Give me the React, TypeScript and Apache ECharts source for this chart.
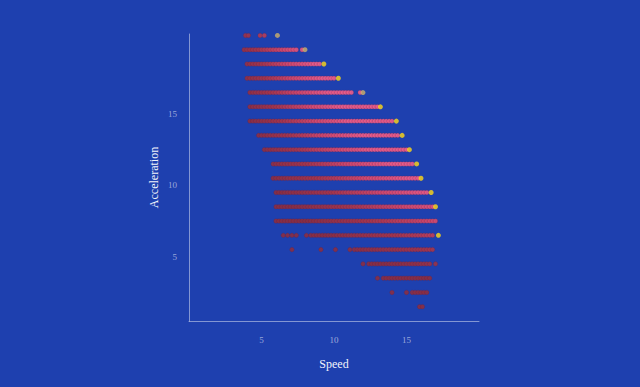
import React, { useEffect, useRef } from 'react';
import * as echarts from 'echarts';

// Acceleration level of each row of points
const accelLevels = [20.5, 19.5, 18.5, 17.5, 16.5, 15.5, 14.5, 13.5, 12.5, 11.5, 10.5, 9.5, 8.5, 7.5, 6.5, 5.5, 4.5, 3.5, 2.5, 1.5];

// Speeds of each row, in tenths
const speedTenths: number[][] = [
  [39, 41, 49, 52],
  [38, 40, 42, 44, 46, 48, 50, 52, 54, 56, 58, 60, 62, 64, 66, 68, 70, 72, 74, 78],
  [40, 42, 44, 46, 48, 50, 52, 54, 56, 58, 60, 62, 64, 66, 68, 70, 72, 74, 76, 78, 80, 82, 84, 86, 88, 90],
  [40, 42, 44, 46, 48, 50, 52, 54, 56, 58, 60, 62, 64, 66, 68, 70, 72, 74, 76, 78, 80, 82, 84, 86, 88, 90, 92, 94, 96, 98, 100],
  [42, 44, 46, 48, 50, 52, 54, 56, 58, 60, 62, 64, 66, 68, 70, 72, 74, 76, 78, 80, 82, 84, 86, 88, 90, 92, 94, 96, 98, 100, 102, 104, 106, 108, 110, 112, 118],
  [42, 44, 46, 48, 50, 52, 54, 56, 58, 60, 62, 64, 66, 68, 70, 72, 74, 76, 78, 80, 82, 84, 86, 88, 90, 92, 94, 96, 98, 100, 102, 104, 106, 108, 110, 112, 114, 116, 118, 120, 122, 124, 126, 128, 130],
  [42, 44, 46, 48, 50, 52, 54, 56, 58, 60, 62, 64, 66, 68, 70, 72, 74, 76, 78, 80, 82, 84, 86, 88, 90, 92, 94, 96, 98, 100, 102, 104, 106, 108, 110, 112, 114, 116, 118, 120, 122, 124, 126, 128, 130, 132, 134, 136, 138, 140],
  [48, 50, 52, 54, 56, 58, 60, 62, 64, 66, 68, 70, 72, 74, 76, 78, 80, 82, 84, 86, 88, 90, 92, 94, 96, 98, 100, 102, 104, 106, 108, 110, 112, 114, 116, 118, 120, 122, 124, 126, 128, 130, 132, 134, 136, 138, 140, 142, 144],
  [52, 54, 56, 58, 60, 62, 64, 66, 68, 70, 72, 74, 76, 78, 80, 82, 84, 86, 88, 90, 92, 94, 96, 98, 100, 102, 104, 106, 108, 110, 112, 114, 116, 118, 120, 122, 124, 126, 128, 130, 132, 134, 136, 138, 140, 142, 144, 146, 148, 150],
  [58, 60, 62, 64, 66, 68, 70, 72, 74, 76, 78, 80, 82, 84, 86, 88, 90, 92, 94, 96, 98, 100, 102, 104, 106, 108, 110, 112, 114, 116, 118, 120, 122, 124, 126, 128, 130, 132, 134, 136, 138, 140, 142, 144, 146, 148, 150, 152, 154],
  [58, 60, 62, 64, 66, 68, 70, 72, 74, 76, 78, 80, 82, 84, 86, 88, 90, 92, 94, 96, 98, 100, 102, 104, 106, 108, 110, 112, 114, 116, 118, 120, 122, 124, 126, 128, 130, 132, 134, 136, 138, 140, 142, 144, 146, 148, 150, 152, 154, 156, 158],
  [60, 62, 64, 66, 68, 70, 72, 74, 76, 78, 80, 82, 84, 86, 88, 90, 92, 94, 96, 98, 100, 102, 104, 106, 108, 110, 112, 114, 116, 118, 120, 122, 124, 126, 128, 130, 132, 134, 136, 138, 140, 142, 144, 146, 148, 150, 152, 154, 156, 158, 160, 162, 164],
  [60, 62, 64, 66, 68, 70, 72, 74, 76, 78, 80, 82, 84, 86, 88, 90, 92, 94, 96, 98, 100, 102, 104, 106, 108, 110, 112, 114, 116, 118, 120, 122, 124, 126, 128, 130, 132, 134, 136, 138, 140, 142, 144, 146, 148, 150, 152, 154, 156, 158, 160, 162, 164, 166, 168],
  [60, 62, 64, 66, 68, 70, 72, 74, 76, 78, 80, 82, 84, 86, 88, 90, 92, 94, 96, 98, 100, 102, 104, 106, 108, 110, 112, 114, 116, 118, 120, 122, 124, 126, 128, 130, 132, 134, 136, 138, 140, 142, 144, 146, 148, 150, 152, 154, 156, 158, 160, 162, 164, 166, 168, 170],
  [65, 68, 71, 74, 81, 84, 86, 88, 90, 92, 94, 96, 98, 100, 102, 104, 106, 108, 110, 112, 114, 116, 118, 120, 122, 124, 126, 128, 130, 132, 134, 136, 138, 140, 142, 144, 146, 148, 150, 152, 154, 156, 158, 160, 162, 164, 166, 168],
  [71, 91, 101, 111, 114, 116, 118, 120, 122, 124, 126, 128, 130, 132, 134, 136, 138, 140, 142, 144, 146, 148, 150, 152, 154, 156, 158, 160, 162, 164, 166, 168],
  [120, 124, 126, 128, 130, 132, 134, 136, 138, 140, 142, 144, 146, 148, 150, 152, 154, 156, 158, 160, 162, 164, 166, 170],
  [130, 134, 136, 138, 140, 142, 144, 146, 148, 150, 152, 154, 156, 158, 160, 162, 164, 166],
  [140, 150, 154, 156, 158, 160, 162, 164],
  [159, 161],
];

// Highlighted (yellow) end points
const peakAccel = [18.5, 17.5, 15.5, 14.5, 13.5, 12.5, 11.5, 10.5, 9.5, 8.5, 6.5];
const peakSpeed = [9.3, 10.3, 13.2, 14.3, 14.7, 15.2, 15.7, 16.0, 16.7, 17.0, 17.2];
// Faded highlighted end points
const fadedPeakAccel = [20.5, 19.5, 16.5];
const fadedPeakSpeed = [6.1, 8.0, 12.0];

const xTickLabels = [5, 10, 15];
const yTickLabels = [5, 10, 15];

const FONT = '"Liberation Serif", "DejaVu Serif", serif';

export default function App() {
  const ref = useRef<HTMLDivElement>(null);
  useEffect(() => {
    const chart = echarts.init(ref.current!, null, { renderer: 'svg' });
    const points: number[][] = [];
    accelLevels.forEach((a, i) => {
      speedTenths[i].forEach((t) => {
        const v = t / 10;
        points.push([v, a, v * a]);
      });
    });
    const peaks = peakAccel.map((a, i) => [peakSpeed[i], a]);
    const faded = fadedPeakAccel.map((a, i) => [fadedPeakSpeed[i], a]);
    const axisLineColor = 'rgba(255,255,255,0.45)';
    const labelColor = 'rgba(255,255,255,0.55)';
    chart.setOption({
      animation: false,
      backgroundColor: '#1e40af',
      grid: { left: 189, top: 34, width: 290, height: 287 },
      xAxis: {
        type: 'value',
        min: 0,
        max: 20,
        splitLine: { show: false },
        axisTick: { show: false },
        axisLine: { lineStyle: { color: axisLineColor, width: 1 } },
        axisLabel: {
          color: labelColor,
          fontSize: 9,
          fontFamily: FONT,
          margin: 14,
          formatter: (v: number) => (xTickLabels.includes(v) ? String(v) : ''),
        },
        name: 'Speed',
        nameLocation: 'middle',
        nameGap: 37,
        nameTextStyle: { color: '#f2f4fc', fontSize: 12, fontFamily: FONT },
      },
      yAxis: {
        type: 'value',
        min: 0.5,
        max: 20.6,
        splitLine: { show: false },
        axisTick: { show: false },
        axisLine: { show: true, lineStyle: { color: axisLineColor, width: 1 } },
        axisLabel: {
          color: labelColor,
          fontSize: 9,
          fontFamily: FONT,
          margin: 12,
          formatter: (v: number) => (yTickLabels.includes(v) ? String(v) : ''),
        },
        name: 'Acceleration',
        nameLocation: 'middle',
        nameGap: 29,
        nameTextStyle: { color: '#f2f4fc', fontSize: 12, fontFamily: FONT },
      },
      visualMap: {
        show: false,
        type: 'continuous',
        dimension: 2,
        seriesIndex: 0,
        min: 60,
        max: 160,
        inRange: { color: ['#8e2e40', '#ad3648', '#dc4a6c', '#f45e88'] },
      },
      series: [
        {
          type: 'scatter',
          data: points,
          symbolSize: 4.5,
          itemStyle: { opacity: 0.85, borderColor: 'rgba(110,25,45,0.45)', borderWidth: 0.5 },
        },
        {
          type: 'scatter',
          data: peaks,
          symbolSize: 5,
          itemStyle: { color: '#ffd814' },
        },
        {
          type: 'scatter',
          data: faded,
          symbolSize: 5,
          itemStyle: { color: '#cdb06a' },
        },
      ],
    });
    return () => chart.dispose();
  }, []);
  return <div ref={ref} style={{ position: 'fixed', left: 0, top: 0, width: 640, height: 387 }} />;
}
